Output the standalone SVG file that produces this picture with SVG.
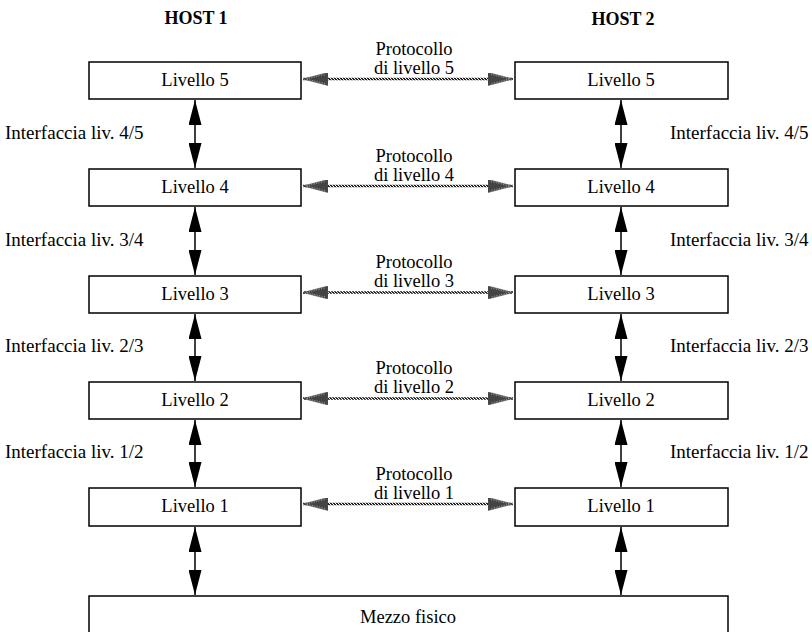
<svg xmlns="http://www.w3.org/2000/svg" width="812" height="632" viewBox="0 0 812 632">
<style>
.box{fill:#fff;stroke:#000;stroke-width:1.5}
.t{font-family:"Times New Roman","Liberation Serif","DejaVu Serif",serif;font-size:18.5px;fill:#000}
.c{text-anchor:middle}
.h{font-weight:bold;font-size:18px}
.i{font-size:19px}
.v{stroke:#000;stroke-width:1.5;fill:none;marker-start:url(#ab);marker-end:url(#ab)}
.p{stroke:url(#dith);stroke-width:2.5;fill:none;marker-start:url(#ag);marker-end:url(#ag)}
</style>
<defs>
<pattern id="dith" width="3" height="3" patternUnits="userSpaceOnUse">
<rect width="3" height="3" fill="#222"/>
<rect width="1" height="1" fill="#fff"/>
<rect x="1" y="1" width="1" height="1" fill="#ddd"/>
<rect x="2" y="2" width="1" height="1" fill="#fff"/>
</pattern>
<marker id="ab" viewBox="0 0 25 13" refX="25" refY="6.5" markerWidth="25" markerHeight="13" markerUnits="userSpaceOnUse" orient="auto-start-reverse">
<path d="M0,0 L25,6.5 L0,13 z" fill="#000"/>
</marker>
<marker id="ag" viewBox="0 0 25 13" refX="25" refY="6.5" markerWidth="25" markerHeight="13" markerUnits="userSpaceOnUse" orient="auto-start-reverse">
<path d="M0,0 L25,6.5 L0,13 z" fill="#444" stroke="#555" stroke-width="0.6"/>
<path d="M3,2 L22,6.5 L3,11" fill="none" stroke="#ccc" stroke-width="0.7" stroke-dasharray="1 1.5"/>
</marker>
</defs>
<rect width="812" height="632" fill="#fff"/>

<text class="t c h" x="196" y="24">HOST 1</text>
<text class="t c h" x="623" y="25">HOST 2</text>

<g id="connectors">
<path class="p" d="M303,79 H513"/>
<path class="p" d="M303,186 H513"/>
<path class="p" d="M303,292.5 H513"/>
<path class="p" d="M303,398.5 H513"/>
<path class="p" d="M303,504 H513"/>
<path class="v" d="M195,100 V168"/>
<path class="v" d="M195,207 V275"/>
<path class="v" d="M195,314 V381"/>
<path class="v" d="M195,420 V487"/>
<path class="v" d="M195,527 V595"/>
<path class="v" d="M621,100 V168"/>
<path class="v" d="M621,207 V275"/>
<path class="v" d="M621,314 V381"/>
<path class="v" d="M621,420 V487"/>
<path class="v" d="M621,527 V595"/>
</g>

<g id="h1l5"><rect class="box" x="89" y="62" width="212" height="37"/><text class="t c" x="195" y="86">Livello 5</text></g>
<g id="h1l4"><rect class="box" x="89" y="169" width="212" height="37"/><text class="t c" x="195" y="193">Livello 4</text></g>
<g id="h1l3"><rect class="box" x="89" y="276" width="212" height="37"/><text class="t c" x="195" y="300">Livello 3</text></g>
<g id="h1l2"><rect class="box" x="89" y="382" width="212" height="37"/><text class="t c" x="195" y="406">Livello 2</text></g>
<g id="h1l1"><rect class="box" x="89" y="488" width="212" height="38"/><text class="t c" x="195" y="512">Livello 1</text></g>

<g id="h2l5"><rect class="box" x="515" y="62" width="213" height="37"/><text class="t c" x="621" y="86">Livello 5</text></g>
<g id="h2l4"><rect class="box" x="515" y="169" width="213" height="37"/><text class="t c" x="621" y="193">Livello 4</text></g>
<g id="h2l3"><rect class="box" x="515" y="276" width="213" height="37"/><text class="t c" x="621" y="300">Livello 3</text></g>
<g id="h2l2"><rect class="box" x="515" y="382" width="213" height="37"/><text class="t c" x="621" y="406">Livello 2</text></g>
<g id="h2l1"><rect class="box" x="515" y="488" width="213" height="38"/><text class="t c" x="621" y="512">Livello 1</text></g>

<g id="mezzo"><rect class="box" x="89" y="596" width="639" height="60"/><text class="t c" x="408" y="623">Mezzo fisico</text></g>

<g id="proto-labels">
<text class="t c" x="414" y="55">Protocollo</text><text class="t c" x="414" y="74">di livello 5</text>
<text class="t c" x="414" y="162">Protocollo</text><text class="t c" x="414" y="181">di livello 4</text>
<text class="t c" x="414" y="268">Protocollo</text><text class="t c" x="414" y="287">di livello 3</text>
<text class="t c" x="414" y="374">Protocollo</text><text class="t c" x="414" y="393">di livello 2</text>
<text class="t c" x="414" y="480">Protocollo</text><text class="t c" x="414" y="499">di livello 1</text>
</g>

<g id="iface-labels">
<text class="t i" x="5" y="138.5">Interfaccia liv. 4/5</text>
<text class="t i" x="5" y="245.5">Interfaccia liv. 3/4</text>
<text class="t i" x="5" y="352">Interfaccia liv. 2/3</text>
<text class="t i" x="5" y="458">Interfaccia liv. 1/2</text>
<text class="t i" x="670" y="138.5">Interfaccia liv. 4/5</text>
<text class="t i" x="670" y="245.5">Interfaccia liv. 3/4</text>
<text class="t i" x="670" y="352">Interfaccia liv. 2/3</text>
<text class="t i" x="670" y="458">Interfaccia liv. 1/2</text>
</g>
</svg>
